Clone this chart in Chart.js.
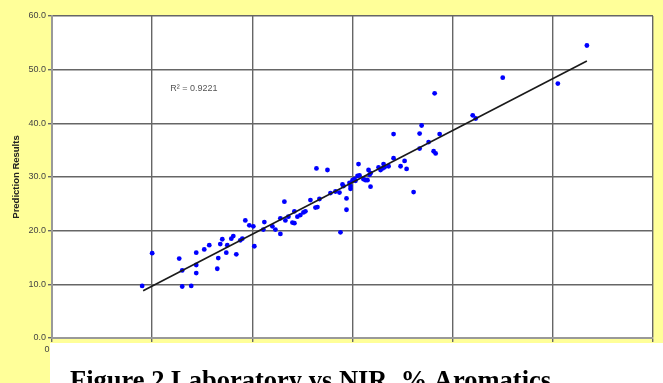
<!DOCTYPE html>
<html>
<head>
<meta charset="utf-8">
<script src="https://cdn.jsdelivr.net/npm/chart.js@4/dist/chart.umd.min.js"></script>
<style>
  html, body { margin: 0; padding: 0; background: #ffffff; }
  canvas { display: block; }
</style>
</head>
<body>
<canvas id="chart" width="663" height="383"></canvas>
<script>
// laboratory values (x) and NIR predictions (y)
const labValues = [
    9.0, 10.0, 12.7, 13.0, 13.0, 13.9, 14.4, 14.4, 14.4, 15.2,
    15.7, 16.5, 16.6, 16.8, 17.0, 17.5, 17.4, 17.9, 18.1, 18.4,
    19.0, 18.8, 19.3, 19.7, 20.1, 20.2, 21.2, 21.1, 22.0, 22.3,
    22.8, 22.8, 23.2, 23.3, 23.6, 24.0, 24.2, 24.2, 24.5, 24.8,
    25.1, 25.3, 25.8, 26.4, 26.3, 26.5, 26.7, 27.5, 27.8, 28.3,
    28.7, 28.8, 29.0, 29.1, 29.4, 29.4, 29.7, 29.8, 29.8, 30.0,
    30.2, 30.3, 30.5, 30.6, 30.7, 31.1, 31.3, 31.5, 31.6, 31.7,
    31.8, 31.8, 32.6, 32.8, 33.0, 33.1, 33.2, 33.6, 34.1, 34.1,
    34.8, 35.2, 35.4, 36.1, 36.7, 36.7, 36.9, 37.6, 38.1, 38.3,
    38.2, 38.7, 42.0, 42.3, 45.0, 50.5, 53.4
];
const predValues = [
    9.7, 15.8, 14.8, 12.6, 9.6, 9.7, 15.9, 13.6, 12.1, 16.5,
    17.3, 12.9, 14.9, 17.5, 18.4, 17.3, 15.9, 18.5, 19.0, 15.6,
    18.5, 18.2, 21.9, 21.0, 20.8, 17.1, 21.6, 20.2, 20.8, 20.2,
    19.4, 22.3, 25.4, 21.9, 22.6, 21.5, 21.4, 23.6, 22.6, 22.9,
    23.4, 23.6, 25.7, 31.6, 24.3, 24.4, 25.9, 31.3, 27.0, 27.3,
    27.1, 19.7, 28.6, 28.3, 26.0, 23.9, 28.9, 28.3, 27.8, 29.4,
    29.6, 29.3, 30.2, 32.4, 30.3, 29.6, 29.4, 29.4, 31.3, 30.4,
    30.7, 28.2, 31.8, 31.3, 31.6, 32.4, 31.8, 32.0, 38.0, 33.5,
    32.0, 33.0, 31.5, 27.2, 38.1, 35.3, 39.6, 36.5, 34.8, 34.4,
    45.6, 38.0, 41.5, 40.9, 48.5, 47.4, 54.5
];

// linear trendline ends, as drawn in the picture
const trendX = [9.1, 53.4];
const trendY = [8.8, 51.6];

const yTicks = [0, 10, 20, 30, 40, 50, 60];
const rSquaredText = 'R\u00B2 = 0.9221';
const captionText = 'Figure 2 Laboratory vs NIR, % Aromatics';

const points = labValues.map((x, i) => ({ x: x, y: predValues[i] }));
const trend = trendX.map((x, i) => ({ x: x, y: trendY[i] }));

const YELLOW = '#ffff99';
const GRID = '#666666';
const SANS = '"Liberation Sans", Arial, sans-serif';

const backgroundPlugin = {
    id: 'page_background',
    beforeDraw: (chart) => {
        const { ctx, width, height, chartArea } = chart;
        ctx.save();
        ctx.fillStyle = YELLOW;
        ctx.fillRect(0, 0, width, height);
        ctx.fillStyle = '#ffffff';
        ctx.fillRect(chartArea.left, chartArea.top, chartArea.right - chartArea.left, chartArea.bottom - chartArea.top);
        ctx.restore();
    },
    afterDatasetsDraw: (chart) => {
        const { ctx, scales } = chart;
        // R squared label, placed in data space near the top-left
        ctx.save();
        ctx.font = '9px ' + SANS;
        ctx.fillStyle = '#555555';
        ctx.textBaseline = 'middle';
        ctx.fillText(rSquaredText, scales.x.getPixelForValue(11.8), scales.y.getPixelForValue(46.5));
        ctx.restore();
    },
    afterDraw: (chart) => {
        const { ctx, width, height } = chart;
        ctx.save();
        // white caption box of the document, overlapping the chart bottom
        ctx.fillStyle = '#ffffff';
        ctx.fillRect(50, 343, width - 50, height - 343);
        ctx.fillStyle = '#000000';
        ctx.font = 'bold 26.5px "Liberation Serif", "Times New Roman", serif';
        ctx.textBaseline = 'alphabetic';
        ctx.fillText(captionText, 70, 389);
        ctx.restore();
    }
};

new Chart(document.getElementById('chart'), {
    type: 'scatter',
    data: {
        datasets: [
            {
                data: trend,
                showLine: true,
                borderColor: '#1a1a1a',
                borderWidth: 1.6,
                pointRadius: 0,
                order: 0
            },
            {
                data: points,
                backgroundColor: '#0000ff',
                borderWidth: 0,
                pointRadius: 2.4,
                order: 1
            }
        ]
    },
    options: {
        responsive: false,
        animation: false,
        layout: { padding: { top: 16, right: 10, left: 0, bottom: 0 } },
        plugins: {
            legend: { display: false },
            tooltip: { enabled: false }
        },
        scales: {
            x: {
                type: 'linear',
                min: 0,
                max: 60,
                afterFit: (s) => { s.height = 45; },
                ticks: {
                    stepSize: 10,
                    color: '#444444',
                    font: { family: SANS, size: 9 },
                    padding: 2,
                    labelOffset: -5,
                    maxRotation: 0,
                    callback: (v) => (v === 0 ? '0' : '')
                },
                grid: { color: GRID, lineWidth: 1.4, tickLength: 4 },
                border: { color: '#999999', width: 2 }
            },
            y: {
                min: 0,
                max: 60,
                afterFit: (s) => { s.width = 52; },
                afterBuildTicks: (s) => { s.ticks = yTicks.map(v => ({ value: v })); },
                ticks: {
                    color: '#444444',
                    font: { family: SANS, size: 9 },
                    padding: 2,
                    callback: (v) => v.toFixed(1)
                },
                grid: { color: GRID, lineWidth: 1.4, tickLength: 4 },
                border: { color: '#999999', width: 2 },
                title: {
                    display: true,
                    text: 'Prediction Results',
                    color: '#222222',
                    font: { family: SANS, size: 9.5, weight: 'bold' },
                    padding: { top: 11, bottom: 0 }
                }
            }
        }
    },
    plugins: [backgroundPlugin]
});
</script>
</body>
</html>
